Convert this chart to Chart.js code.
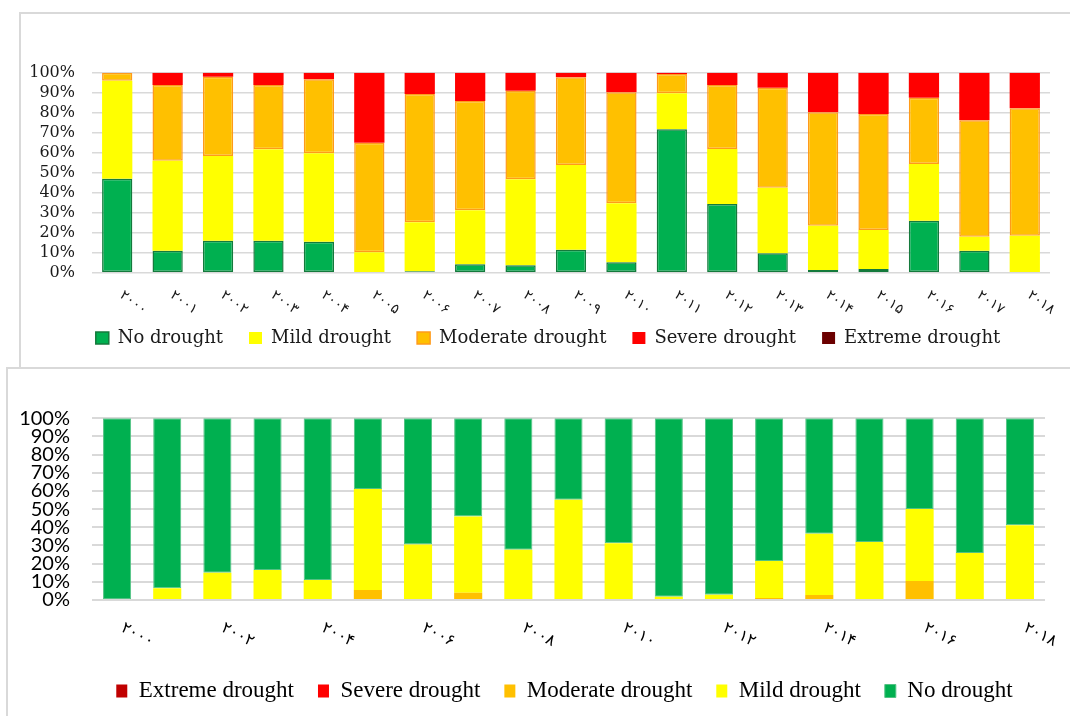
<!DOCTYPE html>
<html>
<head>
<meta charset="utf-8">
<script src="https://cdn.jsdelivr.net/npm/chart.js@4.4.1/dist/chart.umd.min.js"></script>
<style>
  html, body { margin: 0; padding: 0; background: #fff; }
  body { width: 1070px; height: 716px; position: relative; overflow: hidden; }
  .marco { position: absolute; border-left: 2px solid #d9d9d9; border-top: 2px solid #d9d9d9; }
  #marcoA { left: 19px; top: 12px; width: 1100px; height: 353px; }
  #marcoB { left: 6px; top: 367px; width: 1100px; height: 400px; }
  .caja { position: absolute; }
  #cajaA { left: 20px; top: 13px; width: 1060px; height: 350px; }
  #cajaB { left: 7px; top: 369px; width: 1120px; height: 347px; }
</style>
</head>
<body>
<div class="marco" id="marcoA"></div>
<div class="marco" id="marcoB"></div>
<div class="caja" id="cajaA"><canvas id="graficaA"></canvas></div>
<div class="caja" id="cajaB"><canvas id="graficaB"></canvas></div>
<script>
// categorias (años)
const years = [2000, 2001, 2002, 2003, 2004, 2005, 2006, 2007, 2008, 2009,
               2010, 2011, 2012, 2013, 2014, 2015, 2016, 2017, 2018];

// etiquetas del eje x (numeros persas)
const topTickLabels = ['۲۰۰۰', '۲۰۰۱', '۲۰۰۲', '۲۰۰۳', '۲۰۰۴', '۲۰۰۵', '۲۰۰۶', '۲۰۰۷', '۲۰۰۸', '۲۰۰۹',
                       '۲۰۱۰', '۲۰۱۱', '۲۰۱۲', '۲۰۱۳', '۲۰۱۴', '۲۰۱۵', '۲۰۱۶', '۲۰۱۷', '۲۰۱۸'];
const bottomTickLabels = ['۲۰۰۰', '', '۲۰۰۲', '', '۲۰۰۴', '', '۲۰۰۶', '', '۲۰۰۸', '',
                          '۲۰۱۰', '', '۲۰۱۲', '', '۲۰۱۴', '', '۲۰۱۶', '', '۲۰۱۸'];

// grafica superior (%)
const topNo       = [47, 11, 16, 16, 15.5, 0, 0.7, 4.2, 3.7, 11.5, 5.2, 71.7, 34.3, 9.7, 1.3, 1.8, 26, 11, 0];
const topMild     = [49, 45, 42.3, 45.7, 44.2, 10.2, 24.5, 27, 43, 42.3, 29.5, 18, 27.5, 32.8, 22.2, 19.5, 28.3, 7, 18.5];
const topModerate = [4, 37.8, 39.7, 32.1, 37, 54.8, 64.1, 54.6, 44.3, 43.9, 55.5, 9.6, 32, 50, 56.7, 58, 33.2, 58.2, 63.7];
const topSevere   = [0, 6.2, 2, 6.2, 3.3, 35, 10.7, 14.2, 9, 2.3, 9.8, 0.7, 6.2, 7.5, 19.8, 20.7, 12.5, 23.8, 17.8];
const topExtreme  = [0, 0, 0, 0, 0, 0, 0, 0, 0, 0, 0, 0, 0, 0, 0, 0, 0, 0, 0];

// grafica inferior (%)
const bottomExtreme  = [0, 0, 0, 0, 0, 0, 0, 0, 0, 0, 0, 0, 0, 0, 0, 0, 0, 0, 0];
const bottomSevere   = [0, 0, 0, 0, 0, 0, 0, 0, 0, 0, 0, 0, 0, 0, 0, 0, 0, 0, 0];
const bottomModerate = [0, 0, 0, 0, 0, 5.5, 0, 4, 0.5, 0.5, 0, 0, 0, 1.1, 2.8, 0.5, 10.5, 0, 0.5];
const bottomMild     = [0, 6.4, 15, 16.5, 11, 55.6, 30.5, 41.9, 27.2, 54.7, 31.2, 1.8, 2.9, 20.4, 33.7, 31.4, 39.6, 25.9, 40.6];
const bottomNo       = [100, 93.6, 85, 83.5, 89, 38.9, 69.5, 54.1, 72.3, 44.8, 68.8, 98.2, 97.1, 78.5, 63.5, 68.1, 49.9, 74.1, 58.9];

// etiquetas inclinadas del eje x (giro en sentido horario)
const etiquetasInclinadas = {
    id: 'etiquetasInclinadas',
    afterDraw(chart, args, opts) {
        const xs = chart.scales.x;
        const ctx = chart.ctx;
        ctx.save();
        ctx.fillStyle = opts.color;
        ctx.font = opts.size + 'px ' + opts.family;
        ctx.textAlign = 'left';
        ctx.textBaseline = 'middle';
        opts.labels.forEach((txt, i) => {
            if (!txt) return;
            ctx.save();
            ctx.translate(xs.getPixelForValue(i) + opts.dx, xs.top + opts.dy);
            ctx.rotate(opts.angle * Math.PI / 180);
            ctx.fillText(txt, 0, 0);
            ctx.restore();
        });
        ctx.restore();
    }
};

// eje vacio a la derecha, solo para reservar espacio y centrar la leyenda
function ejeVacio(ancho) {
    return {
        position: 'right',
        display: true,
        grid: { display: false },
        border: { display: false },
        ticks: { display: false },
        afterFit: s => { s.width = ancho; }
    };
}

function graficaSuperior() {
    const data = {
        labels: years,
        datasets: [
            { label: 'No drought', data: topNo, backgroundColor: '#00B050', borderColor: '#147a3c', borderWidth: 1.5 },
            { label: 'Mild drought', data: topMild, backgroundColor: '#FFFF00', borderColor: '#FFFF00', borderWidth: 0 },
            { label: 'Moderate drought', data: topModerate, backgroundColor: '#FFC000', borderColor: '#FF9A1A', borderWidth: 1.5 },
            { label: 'Severe drought', data: topSevere, backgroundColor: '#FF0000', borderColor: '#FF0000', borderWidth: 0 },
            { label: 'Extreme drought', data: topExtreme, backgroundColor: '#6B0000', borderColor: '#6B0000', borderWidth: 0 }
        ]
    };
    data.datasets.forEach(d => {
        d.barPercentage = 0.6;
        d.categoryPercentage = 1;
        d.borderSkipped = false;
    });

    const config = {
        type: 'bar',
        data: data,
        options: {
            responsive: true,
            maintainAspectRatio: false,
            animation: false,
            layout: { padding: { top: 59.7, left: 0, right: 4, bottom: 6 } },
            scales: {
                x: {
                    stacked: true,
                    grid: { display: false },
                    border: { display: false },
                    ticks: { display: false },
                    afterFit: s => { s.height = 30.3; }
                },
                y: {
                    stacked: true,
                    min: 0,
                    max: 100,
                    border: { display: false },
                    grid: { color: '#d9d9d9', lineWidth: 1.5, drawTicks: false },
                    ticks: {
                        count: 11,
                        autoSkip: false,
                        padding: 17,
                        color: '#1a1a1a',
                        font: { family: 'DejaVu Serif', size: 16 },
                        callback: v => v + '%'
                    },
                    afterFit: s => { s.width = 72; }
                },
                yDer: ejeVacio(26)
            },
            plugins: {
                tooltip: { enabled: false },
                legend: {
                    position: 'bottom',
                    labels: {
                        color: '#1a1a1a',
                        boxWidth: 13,
                        boxHeight: 12,
                        padding: 26,
                        font: { family: 'DejaVu Serif', size: 18 }
                    }
                },
                etiquetasInclinadas: {
                    labels: topTickLabels,
                    color: '#1a1a1a',
                    family: '"DejaVu Sans"',
                    size: 14,
                    angle: 36,
                    dx: 4,
                    dy: 21
                }
            }
        },
        plugins: [etiquetasInclinadas]
    };

    new Chart(document.getElementById('graficaA'), config);
}

function graficaInferior() {
    const data = {
        labels: years,
        datasets: [
            { label: 'Extreme drought', data: bottomExtreme, backgroundColor: '#C00000', borderWidth: 0 },
            { label: 'Severe drought', data: bottomSevere, backgroundColor: '#FF0000', borderWidth: 0 },
            { label: 'Moderate drought', data: bottomModerate, backgroundColor: '#FFC000', borderWidth: 0 },
            { label: 'Mild drought', data: bottomMild, backgroundColor: '#FFFF00', borderWidth: 0 },
            { label: 'No drought', data: bottomNo, backgroundColor: '#00B050', borderColor: '#52c283', borderWidth: 1 }
        ]
    };
    data.datasets.forEach(d => {
        d.barPercentage = 0.56;
        d.categoryPercentage = 1;
        d.borderSkipped = false;
    });

    const config = {
        type: 'bar',
        data: data,
        options: {
            responsive: true,
            maintainAspectRatio: false,
            animation: false,
            layout: { padding: { top: 49.3, left: 0, right: 5, bottom: 3.5 } },
            scales: {
                x: {
                    stacked: true,
                    grid: { display: false },
                    border: { display: false },
                    ticks: { display: false },
                    afterFit: s => { s.height = 55.5; }
                },
                y: {
                    stacked: true,
                    min: 0,
                    max: 100,
                    border: { display: false },
                    grid: { color: '#d9d9d9', lineWidth: 2, drawTicks: false },
                    ticks: {
                        count: 11,
                        autoSkip: false,
                        padding: 22,
                        color: '#000',
                        font: { family: 'Lato', size: 20 },
                        callback: v => v + '%'
                    },
                    afterFit: s => { s.width = 85; }
                },
                yDer: ejeVacio(77)
            },
            plugins: {
                tooltip: { enabled: false },
                legend: {
                    position: 'bottom',
                    labels: {
                        color: '#000',
                        boxWidth: 11,
                        boxHeight: 13,
                        padding: 24,
                        font: { family: 'Liberation Serif', size: 23 }
                    }
                },
                etiquetasInclinadas: {
                    labels: bottomTickLabels,
                    color: '#000',
                    family: '"DejaVu Sans"',
                    size: 16,
                    angle: 27,
                    dx: 5,
                    dy: 27
                }
            }
        },
        plugins: [etiquetasInclinadas]
    };

    new Chart(document.getElementById('graficaB'), config);
}

graficaSuperior();
graficaInferior();
</script>
</body>
</html>
